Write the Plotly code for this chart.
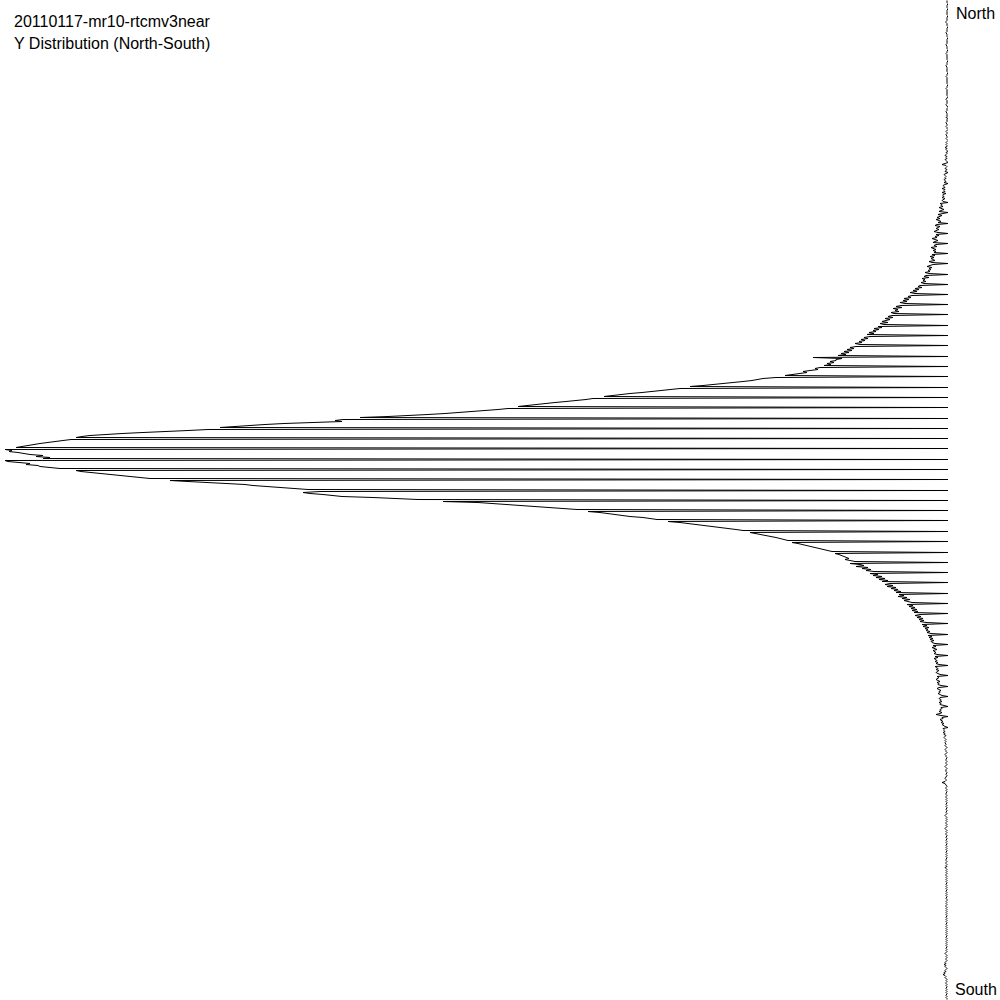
import plotly.graph_objects as go

title_line1 = "20110117-mr10-rtcmv3near"
title_line2 = "Y Distribution (North-South)"
label_top = "North"
label_bottom = "South"

# counts per Y bin, North (bin 0) to South (bin 999)
counts = [
    1,1,1,0,1,1,1,1,0,1,
    1,1,1,1,1,0,1,1,1,1,
    1,2,2,1,1,1,0,1,1,1,
    1,1,2,1,1,1,1,0,1,1,
    1,1,1,1,2,1,1,1,1,0,
    1,1,1,2,1,1,1,1,1,1,
    0,1,1,1,1,2,1,1,1,1,
    1,1,0,1,1,1,2,1,1,1,
    1,1,1,1,0,1,1,1,2,1,
    1,1,1,1,1,1,0,1,1,2,
    1,1,1,1,2,1,1,0,1,1,
    1,2,1,1,1,1,1,2,0,1,
    1,1,2,1,1,1,2,1,1,0,
    1,2,1,1,2,1,1,1,2,1,
    0,1,2,1,2,1,1,3,1,2,
    1,0,2,1,2,3,1,2,1,3,
    2,1,0,3,6,2,1,2,3,1,
    2,3,0,2,4,3,2,3,2,4,
    3,2,4,0,3,5,4,3,6,3,
    4,3,6,2,5,5,4,6,3,5,
    6,5,0,8,6,7,5,9,6,4,
    7,9,0,8,10,6,9,11,8,12,
    9,7,10,0,11,13,8,10,12,9,
    11,14,10,0,12,9,13,11,16,12,
    10,13,15,0,12,14,11,17,13,12,
    15,12,14,0,16,13,18,14,17,15,
    13,19,16,0,15,18,21,16,19,17,
    20,18,23,19,0,22,24,19,26,23,
    25,22,27,24,0,28,30,26,33,29,
    35,31,38,33,0,36,40,37,44,39,
    45,41,48,43,0,47,52,46,55,50,
    53,49,57,54,0,56,60,55,63,58,
    62,66,60,68,64,0,70,66,74,69,
    75,72,79,74,81,0,78,84,80,87,
    83,89,86,93,88,0,92,98,94,101,
    96,104,99,107,102,110,0,135,106,112,
    112,118,114,121,117,124,0,128,133,130,
    138,145,141,150,158,163,0,172,185,190,
    196,205,214,228,236,245,258,0,268,276,
    290,298,306,318,326,334,344,0,355,362,
    370,382,393,403,412,420,430,0,440,450,
    462,478,490,503,520,536,560,588,0,605,
    613,606,647,664,683,697,715,728,0,740,
    760,790,805,826,850,858,866,872,0,877,
    885,895,901,908,914,920,926,932,0,943,
    936,939,930,924,918,905,912,898,905,0,
    943,940,932,918,922,910,908,895,888,0,
    872,867,858,848,840,830,820,810,798,0,
    778,760,735,711,703,695,680,665,650,640,
    0,628,645,638,625,612,606,575,546,530,
    0,505,470,455,440,428,415,395,383,371,
    0,360,348,340,335,328,318,305,298,291,
    0,280,268,260,250,238,232,225,218,212,
    205,0,198,192,188,183,178,172,168,165,
    160,0,156,150,146,141,138,134,130,126,
    120,116,0,113,109,106,104,101,99,103,
    96,93,0,98,88,84,92,80,86,77,
    82,74,0,78,70,75,66,72,63,69,
    60,66,0,58,63,55,61,52,57,50,
    54,47,52,0,49,44,50,41,46,38,
    44,40,36,0,41,35,39,33,37,31,
    36,30,34,0,28,33,27,31,25,29,
    24,28,22,0,26,21,25,19,23,20,
    22,18,21,17,0,20,16,19,15,18,
    14,17,16,13,0,15,12,16,14,11,
    15,13,12,14,11,0,13,10,14,12,
    11,13,10,12,9,0,13,11,10,12,
    9,11,12,10,8,0,11,9,10,12,
    10,8,11,9,10,7,0,9,11,8,
    7,9,8,10,7,6,0,8,9,7,
    8,6,9,7,8,5,0,7,6,8,
    7,9,6,8,12,7,0,6,5,8,
    6,5,7,4,6,5,3,0,5,4,
    4,3,5,3,4,2,3,4,3,2,
    3,2,3,2,2,3,2,1,2,3,
    2,2,1,2,3,2,2,1,2,2,
    2,1,2,2,1,2,3,2,1,2,
    2,2,1,2,2,1,2,2,3,2,
    2,3,6,3,2,2,1,2,2,1,
    2,1,2,2,2,1,2,2,1,2,
    1,2,1,2,2,1,2,1,2,2,
    1,2,2,1,2,3,2,1,2,1,
    2,1,2,2,1,2,1,2,3,2,
    1,2,1,2,2,1,2,2,1,2,
    2,1,2,1,2,2,1,2,1,2,
    1,2,2,1,2,1,2,1,2,2,
    2,1,2,2,1,2,1,3,2,1,
    2,1,2,1,2,2,1,2,1,2,
    1,2,1,2,2,1,2,1,2,1,
    2,2,1,2,1,2,1,2,2,1,
    1,2,1,2,1,2,2,1,2,1,
    2,1,2,1,2,1,2,2,1,2,
    1,2,1,2,2,1,2,1,2,1,
    2,1,2,1,2,1,2,2,1,2,
    1,2,1,2,1,2,1,2,2,1,
    2,1,2,3,2,1,2,1,2,2,
    1,2,3,2,4,2,3,2,1,2,
    3,2,4,3,5,3,2,3,2,1,
    2,1,2,2,1,2,1,2,2,1,
    2,1,2,1,2,2,1,2,1,1,
]
bins = list(range(len(counts)))

fig = go.Figure()
fig.add_trace(go.Scatter(
    x=counts, y=bins, mode="lines",
    line=dict(color="black", width=1),
    hoverinfo="skip", showlegend=False,
))

W, H = 1000, 1000
ML, MR = 0, 52
PW = W - ML - MR

def px(xp):
    return (xp - ML) / PW

def py(yp):
    return 1 - yp / H

font = dict(family="Liberation Sans, Arial, sans-serif", size=16, color="black")
ann = [
    dict(text=title_line1, x=px(12), y=py(21), xanchor="left", yanchor="middle"),
    dict(text=title_line2, x=px(12), y=py(43.5), xanchor="left", yanchor="middle"),
    dict(text=label_top, x=px(954), y=py(13.5), xanchor="left", yanchor="middle"),
    dict(text=label_bottom, x=px(953), y=py(989.5), xanchor="left", yanchor="middle"),
]
for a in ann:
    a.update(xref="paper", yref="paper", showarrow=False, font=font)

fig.update_layout(
    width=W, height=H,
    margin=dict(l=ML, r=MR, t=0, b=0, pad=0),
    paper_bgcolor="white", plot_bgcolor="white",
    xaxis=dict(range=[948, 0], visible=False, fixedrange=True),
    yaxis=dict(range=[len(counts) - 0.5, -0.5], visible=False, fixedrange=True),
    annotations=ann,
)
fig.write_html(
    "out.html",
    config={"displayModeBar": False},
    post_script="document.body.style.margin='0';document.body.style.padding='0';document.body.style.overflow='hidden';",
)
